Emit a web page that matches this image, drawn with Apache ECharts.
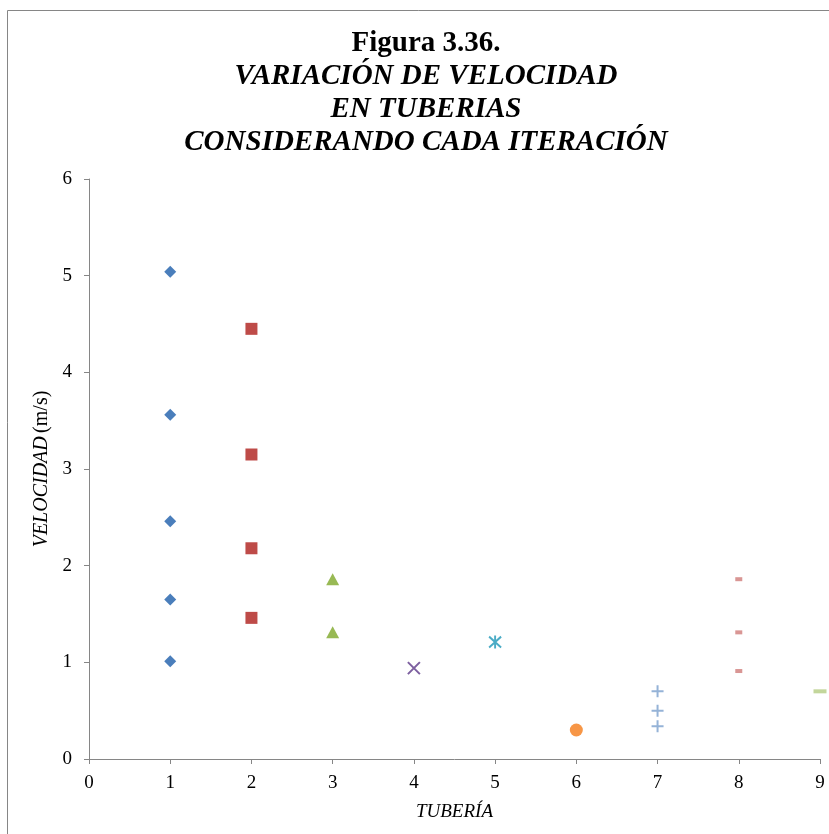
<!DOCTYPE html>
<html>
<head>
<meta charset="utf-8">
<script src="https://cdn.jsdelivr.net/npm/echarts@6/dist/echarts.min.js"></script>
<style>
  html, body { margin: 0; padding: 0; background: #fff; }
  #main { width: 829px; height: 834px; }
</style>
</head>
<body>
<div id="main"></div>
<script>
// valores
var tuberias = [1, 2, 3, 4, 5, 6, 7, 8, 9];
var vel1 = [5.04, 3.56, 2.46, 1.65, 1.01];
var vel2 = [4.45, 3.15, 2.18, 1.46];
var vel3 = [1.86, 1.31];
var vel4 = [0.94];
var vel5 = [1.21];
var vel6 = [0.30];
var vel7 = [0.70, 0.50, 0.34];
var vel8 = [1.86, 1.31, 0.91];
var vel9 = [0.70];
var xTicks = [0, 1, 2, 3, 4, 5, 6, 7, 8, 9];
var yTicks = [0, 1, 2, 3, 4, 5, 6];

var myChart = echarts.init(document.getElementById('main'));

function pts(x, arr) {
  return arr.map(function (v) { return [x, v]; });
}

var FONT = '"Liberation Serif", "Times New Roman", serif';
var crossPath = 'path://M0,0L10,10M10,0L0,10';
var starPath = 'path://M0,0L10,10M10,0L0,10M5,-1L5,11';
var plusPath = 'path://M5,0L5,10M0,5L10,5';

function filled(name, x, arr, symbol, size, color) {
  return {
    name: name, type: 'scatter', data: pts(x, arr),
    symbol: symbol, symbolSize: size,
    itemStyle: { color: color, opacity: 1 }
  };
}
function stroked(name, x, arr, symbol, size, color) {
  return {
    name: name, type: 'scatter', data: pts(x, arr),
    symbol: symbol, symbolSize: size,
    itemStyle: { color: 'none', borderColor: color, borderWidth: 2, opacity: 1 }
  };
}

var option = {
  backgroundColor: '#fff',
  animation: false,
  graphic: [{
    type: 'rect',
    shape: { x: 7.5, y: 10.5, width: 840, height: 840 },
    style: { fill: 'none', stroke: '#868686', lineWidth: 1 },
    silent: true
  }, {
    type: 'text',
    x: 426, y: 27,
    style: {
      text: '{b|Figura 3.36.}\n{i|VARIACIÓN DE VELOCIDAD}\n{i|EN TUBERIAS}\n{i|CONSIDERANDO CADA ITERACIÓN}',
      align: 'center', verticalAlign: 'top',
      rich: {
        b: { fontFamily: FONT, fontWeight: 'bold', fontSize: 29, lineHeight: 33, color: '#000', align: 'center' },
        i: { fontFamily: FONT, fontWeight: 'bold', fontStyle: 'italic', fontSize: 29, lineHeight: 33, color: '#000', align: 'center' }
      }
    },
    silent: true
  }],
  grid: { left: 89, right: 9, top: 179, bottom: 75, containLabel: false },
  xAxis: {
    type: 'value', min: 0, max: 9, interval: 1,
    name: 'TUBERÍA', nameLocation: 'middle', nameGap: 43,
    nameTextStyle: { fontFamily: FONT, fontStyle: 'italic', fontSize: 19, color: '#000' },
    axisLine: { show: true, lineStyle: { color: '#868686', width: 1 } },
    axisTick: { show: true, inside: false, length: 5, lineStyle: { color: '#868686' } },
    axisLabel: { fontFamily: FONT, fontSize: 19, color: '#000', margin: 15 },
    splitLine: { show: false }
  },
  yAxis: {
    type: 'value', min: 0, max: 6, interval: 1,
    name: '{i|VELOCIDAD} {n|(m/s)}', nameLocation: 'middle', nameGap: 26, nameRotate: 90,
    nameTextStyle: {
      rich: {
        i: { fontFamily: FONT, fontStyle: 'italic', fontSize: 20, color: '#000' },
        n: { fontFamily: FONT, fontSize: 20, color: '#000' }
      }
    },
    axisLine: { show: true, lineStyle: { color: '#868686', width: 1 } },
    axisTick: { show: true, inside: false, length: 5, lineStyle: { color: '#868686' } },
    axisLabel: { fontFamily: FONT, fontSize: 19, color: '#000', margin: 17 },
    splitLine: { show: false }
  },
  series: [
    filled('T1', 1, vel1, 'diamond', [12, 12], '#4A7EBB'),
    filled('T2', 2, vel2, 'rect', [12, 12], '#BE4B48'),
    filled('T3', 3, vel3, 'triangle', [13, 12], '#98B954'),
    stroked('T4', 4, vel4, crossPath, [12, 12], '#7D60A0'),
    stroked('T5', 5, vel5, starPath, [12, 13], '#4BACC6'),
    filled('T6', 6, vel6, 'circle', [13, 13], '#F79646'),
    stroked('T7', 7, vel7, plusPath, [12, 12], '#95B3D7'),
    filled('T8', 8, vel8, 'rect', [7, 4], '#D99694'),
    filled('T9', 9, vel9, 'rect', [13, 4], '#C3D69B')
  ]
};

myChart.setOption(option);
</script>
</body>
</html>
